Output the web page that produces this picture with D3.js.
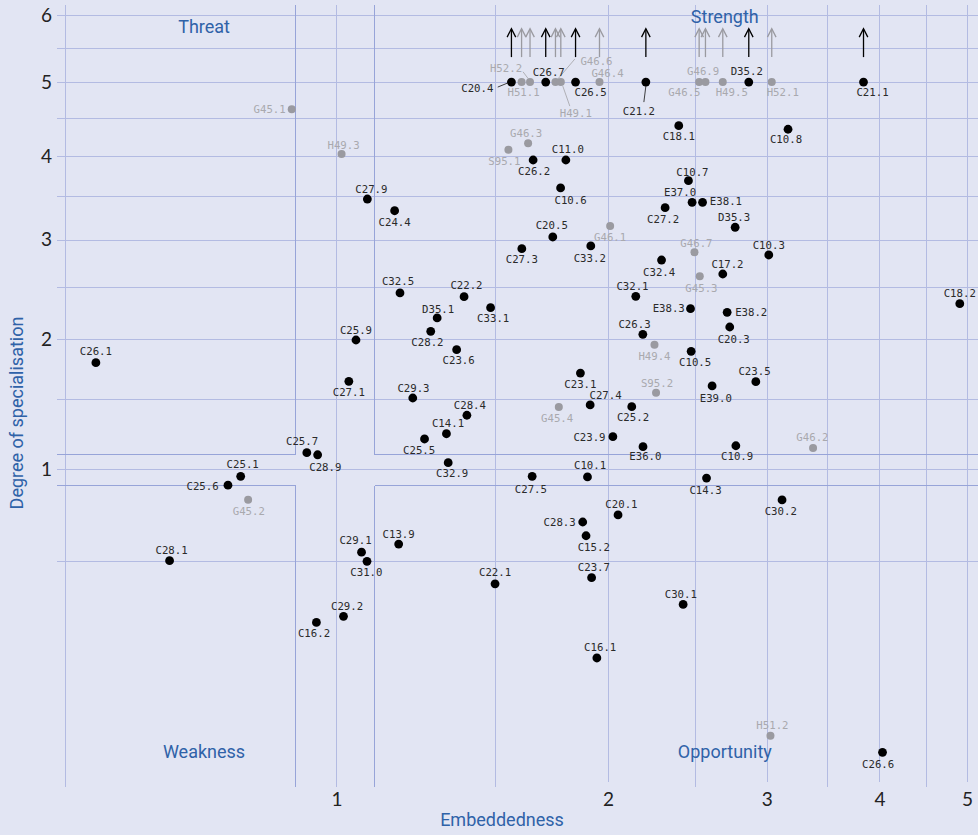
<!DOCTYPE html>
<html>
<head>
<meta charset="utf-8">
<script src="https://cdn.jsdelivr.net/npm/d3@7/dist/d3.min.js"></script>
<style>
  html, body { margin: 0; padding: 0; background: #e2e5f3; }
  svg { display: block; }
</style>
</head>
<body>
<svg id="chart" width="978" height="835"></svg>
<script>
// Sectors: code, embeddedness (x) and degree of specialisation (y)
const names = [
  "C20.4","H51.1","H52.2","C26.7","G46.6","H49.1","C26.5","G46.4","C21.2",
  "G46.9","G46.5","H49.5","D35.2","H52.1","C21.1",
  "C26.1","G45.1","H49.3","C27.9","C24.4","G46.3","S95.1","C26.2","C11.0",
  "C10.6","C18.1","C10.8","C10.7","E37.0","E38.1","C27.2","D35.3","C20.5",
  "G46.1","C27.3","C33.2","G46.7","C10.3","C32.4","C17.2","G45.3","C32.1",
  "E38.3","E38.2","C20.3","C22.2","C33.1","C32.5","D35.1","C28.2","C23.6",
  "C25.9","C27.1","C29.3","C28.4","C14.1","C25.5","C25.7","C28.9","C32.9",
  "C25.1","C25.6","G45.2","C28.1","C29.1","C31.0","C13.9","C29.2","C16.2",
  "C18.2","C26.3","H49.4","C10.5","C23.1","S95.2","C23.5","E39.0","C27.4",
  "G45.4","C25.2","C23.9","E36.0","C10.9","G46.2","C27.5","C10.1","C14.3",
  "C30.2","C20.1","C28.3","C15.2","C22.1","C23.7","C30.1","C16.1","H51.2","C26.6"
];
const embeddedness = [
  1.563,1.604,1.639,1.706,1.749,1.773,1.841,1.957,2.203,
  2.524,2.565,2.681,2.865,3.038,3.840,
  0.541,0.892,1.013,1.082,1.160,1.631,1.551,1.652,1.796,
  1.772,2.396,3.167,2.456,2.479,2.546,2.314,2.767,1.737,
  2.011,1.605,1.914,2.494,3.015,2.293,2.681,2.528,2.147,
  2.469,2.711,2.729,1.385,1.482,1.176,1.293,1.272,1.359,
  1.051,1.032,1.215,1.395,1.324,1.252,0.927,0.953,1.330,
  0.783,0.758,0.798,0.653,1.066,1.081,1.172,1.018,0.950,
  4.910,2.186,2.252,2.473,1.864,2.261,2.917,2.609,1.911,
  1.764,2.125,2.025,2.187,2.772,3.376,1.648,1.898,2.572,
  3.119,2.052,1.875,1.891,1.499,1.918,2.423,1.944,3.028,4.031
];
const specialisation = [
  5,5,5,5,5,5,5,5,5,
  5,5,5,5,5,5,
  1.795,4.619,4.026,3.469,3.331,4.164,4.081,3.949,3.949,
  3.602,4.397,4.349,3.691,3.430,3.430,3.367,3.141,3.032,
  3.156,2.903,2.933,2.864,2.835,2.781,2.634,2.610,2.408,
  2.287,2.252,2.113,2.404,2.296,2.441,2.198,2.073,1.908,
  1.994,1.639,1.505,1.373,1.238,1.201,1.107,1.093,1.041,
  0.954,0.899,0.813,0.500,0.539,0.497,0.578,0.280,0.260,
  2.335,2.046,1.952,1.893,1.707,1.547,1.636,1.601,1.451,
  1.435,1.438,1.217,1.148,1.154,1.139,0.954,0.950,0.943,
  0.812,0.728,0.690,0.619,0.401,0.426,0.322,0.157,0.0219,0.0090
];
// Sectors whose specialisation runs past the top of the scale (drawn at 5 with an arrow)
const offScale = [
  "C20.4","H51.1","H52.2","C26.7","G46.6","H49.1","C26.5","G46.4","C21.2",
  "G46.9","G46.5","H49.5","D35.2","H52.1","C21.1"
];
const xTicks = [1, 2, 3, 4, 5];
const yTicks = [1, 2, 3, 4, 5, 6];
const xGrid = [0.5, 1, 1.5, 2, 2.5, 3, 3.5, 4, 4.5, 5];
const yGrid = [0.5, 1, 1.5, 2, 2.5, 3, 3.5, 4, 4.5, 5, 5.5, 6];
const bandLow = 0.9, bandHigh = 1.1;
const capValue = 5;

// Label placement around each dot: [anchor, dx, dy]; optional leader [x1,y1,x2,y2]
const labelAt = {
  "C20.4":["e",-18,6,[-13.7,5,-4,1]], "H51.1":["m",2,10], "H52.2":["m",-24,-14,[-7,-10.3,-2,-3.7]],
  "C26.7":["m",3,-10], "G46.6":["m",41,-21,[19.3,-23,2.3,-3]], "H49.1":["m",15,31,[9,24,2,4]],
  "C26.5":["m",15,10], "G46.4":["m",8,-9], "C21.2":["m",-7,29,[-2,20,0,4]],
  "G46.9":["m",4,-11], "G46.5":["m",-21,10], "H49.5":["m",9,10], "D35.2":["m",-2,-11],
  "H52.1":["m",11,10], "C21.1":["m",9,10],
  "C26.1":["m",0,-11.7], "G45.1":["e",-6,0], "H49.3":["m",2,-9], "C27.9":["m",4,-10.3],
  "C24.4":["m",0,11], "G46.3":["m",-2,-10.6], "S95.1":["m",-4,11], "C26.2":["m",1,11],
  "C11.0":["m",2,-11], "C10.6":["m",10,12], "C18.1":["m",0,10], "C10.8":["m",-2,10],
  "C10.7":["m",4,-9], "E37.0":["m",-12,-10], "E38.1":["s",7.3,-1], "C27.2":["m",-2,11],
  "D35.3":["m",-1,-10.3], "C20.5":["m",-1,-12], "G46.1":["m",0,11.7], "C27.3":["m",0,10.6],
  "C33.2":["m",-1,12.3], "G46.7":["m",2,-9.6], "C10.3":["m",0,-10], "C32.4":["m",-2.4,11.7],
  "C17.2":["m",4.7,-10.3], "G45.3":["m",1.7,11.4], "C32.1":["m",-3.3,-10.6], "E38.3":["e",-5.7,-0.7],
  "E38.2":["s",8,0], "C20.3":["m",4,11.7], "C22.2":["m",2.4,-11.4], "C33.1":["m",2.6,10.6],
  "C32.5":["m",-2,-12], "D35.1":["m",1,-9], "C28.2":["m",-3.3,10.4], "C23.6":["m",2,10.3],
  "C25.9":["m",0,-10], "C27.1":["m",0,10.7], "C29.3":["m",0.7,-10], "C28.4":["m",3,-10.3],
  "C14.1":["m",1.6,-10.7], "C25.5":["m",-5.4,11], "C25.7":["m",-4.7,-11.7], "C28.9":["m",7.7,12],
  "C32.9":["m",4,10.6], "C25.1":["m",2,-12.3], "C25.6":["e",-9.3,1.4], "G45.2":["m",0.7,11],
  "C28.1":["m",2,-11], "C29.1":["m",-6,-12.3], "C31.0":["m",-0.6,10.7], "C13.9":["m",0,-9.7],
  "C29.2":["m",3.6,-10.6], "C16.2":["m",-2.4,11], "C18.2":["m",0,-10.4], "C26.3":["m",-8.3,-10],
  "H49.4":["m",0,11.3], "C10.5":["m",4,10.4], "C23.1":["m",0,11], "S95.2":["m",1,-9.7],
  "C23.5":["m",-1.3,-11], "E39.0":["m",3.7,11.7], "C27.4":["m",15.4,-10], "G45.4":["m",-1.7,10.7],
  "C25.2":["m",1.3,10.6], "C23.9":["e",-7.3,0], "E36.0":["m",2.4,10], "C10.9":["m",1.3,10],
  "G46.2":["m",-0.6,-11.3], "C27.5":["m",-1.3,12.4], "C10.1":["m",2.6,-11.3], "C14.3":["m",-1,12],
  "C30.2":["m",-1.3,10.7], "C20.1":["m",3.4,-10.7], "C28.3":["e",-7,0], "C15.2":["m",7.7,11],
  "C22.1":["m",0,-12], "C23.7":["m",2.3,-10.4], "C30.1":["m",-2.3,-10.6], "C16.1":["m",3.3,-11.3],
  "H51.2":["m",2,-11], "C26.6":["m",-4.4,11.7]
};

const svg = d3.select("#chart");
const W = 978, H = 835;
const plotTop = 5, plotBottom = 787;

const x = d3.scaleLog().domain([0.5, 5]).range([65, 966.9]);
const y = d3.scaleSqrt().domain([0, 6]).range([782, 15.3]);

const gridColor = "#b3bbe2";
const bandColor = "#97a4d8";
const blue = "#2f62a8";

svg.append("rect").attr("width", W).attr("height", H).attr("fill", "#e2e5f3");

// grid
const grid = svg.append("g").attr("shape-rendering", "crispEdges");
grid.selectAll("line.v").data(xGrid).join("line")
  .attr("x1", d => Math.round(x(d)) + 0.5).attr("x2", d => Math.round(x(d)) + 0.5)
  .attr("y1", plotTop).attr("y2", d => Number.isInteger(d) && d > 1 ? y(0) : plotBottom)
  .attr("stroke", gridColor).attr("stroke-width", 1);
grid.selectAll("line.h").data(yGrid).join("line")
  .attr("x1", 57).attr("x2", W)
  .attr("y1", d => Math.round(y(d)) + 0.5).attr("y2", d => Math.round(y(d)) + 0.5)
  .attr("stroke", gridColor).attr("stroke-width", 1);

// cross-shaped band around 1 on both axes
const bx0 = Math.round(x(bandLow)) + 0.5, bx1 = Math.round(x(bandHigh)) + 0.5;
const by0 = Math.round(y(bandHigh)) + 0.5, by1 = Math.round(y(bandLow)) + 0.5;
const bandSegs = [
  [bx0, plotTop, bx0, by0], [bx0, by1, bx0, plotBottom],
  [bx1, plotTop, bx1, by0], [bx1, by1, bx1, plotBottom],
  [57, by0, bx0, by0], [bx1, by0, W, by0],
  [57, by1, bx0, by1], [bx1, by1, W, by1]
];
grid.selectAll("line.b").data(bandSegs).join("line")
  .attr("x1", d => d[0]).attr("y1", d => d[1]).attr("x2", d => d[2]).attr("y2", d => d[3])
  .attr("stroke", bandColor).attr("stroke-width", 1.1);

// axes (tick labels only)
const yAxis = svg.append("g").attr("transform", "translate(57,0)")
  .call(d3.axisLeft(y).tickValues(yTicks).tickSize(0).tickPadding(5).tickFormat(d3.format("d")));
const xAxis = svg.append("g").attr("transform", `translate(0,${plotBottom})`)
  .call(d3.axisBottom(x).tickValues(xTicks).tickSize(0).tickPadding(5.5).tickFormat(d3.format("d")));
[yAxis, xAxis].forEach(a => {
  a.select(".domain").remove();
  a.selectAll("text").attr("font-family", "Lato, sans-serif").attr("font-size", 19).attr("fill", "#222");
});

// axis titles
svg.append("text").attr("x", 502).attr("y", 826).attr("text-anchor", "middle")
  .attr("font-family", "Roboto, sans-serif").attr("font-size", 18).attr("fill", blue).text("Embeddedness");
svg.append("text").attr("transform", "translate(23,413) rotate(-90)").attr("text-anchor", "middle")
  .attr("font-family", "Roboto, sans-serif").attr("font-size", 18).attr("fill", blue).text("Degree of specialisation");

// quadrant names
const quadrants = [
  { name: "Threat", xv: Math.sqrt(0.5 * 1.017), yPix: 33 },
  { name: "Strength", xv: 2.695, yPix: 23 },
  { name: "Weakness", xv: Math.sqrt(0.5 * 1.017), yPix: 758 },
  { name: "Opportunity", xv: 2.695, yPix: 758 }
];
svg.selectAll("text.quad").data(quadrants).join("text")
  .attr("x", d => x(d.xv)).attr("y", d => d.yPix).attr("text-anchor", "middle")
  .attr("font-family", "Roboto, sans-serif").attr("font-size", 18).attr("fill", blue)
  .text(d => d.name);

// points
const points = names.map((n, i) => ({
  name: n, xv: embeddedness[i], yv: specialisation[i],
  grey: /^[GHS]/.test(n), over: offScale.includes(n)
}));
const dotColor = d => d.grey ? "#9a9aa0" : "#000";
const textColor = d => d.grey ? "#a9a9ae" : "#2a2a2a";

// leader lines
svg.append("g").selectAll("line").data(points.filter(d => labelAt[d.name] && labelAt[d.name][3])).join("line")
  .attr("x1", d => x(d.xv) + labelAt[d.name][3][0]).attr("y1", d => y(Math.min(d.yv, capValue)) + labelAt[d.name][3][1])
  .attr("x2", d => x(d.xv) + labelAt[d.name][3][2]).attr("y2", d => y(Math.min(d.yv, capValue)) + labelAt[d.name][3][3])
  .attr("stroke", textColor).attr("stroke-width", 0.9);

// arrows for off-scale values
const arrows = svg.append("g").selectAll("g").data(points.filter(d => d.over)).join("g")
  .attr("transform", d => `translate(${x(d.xv)},${y(capValue)})`);
arrows.append("line").attr("x1", 0).attr("x2", 0).attr("y1", -25).attr("y2", -53)
  .attr("stroke", dotColor).attr("stroke-width", 1.3);
arrows.append("path").attr("d", "M-4.3,-45 L0,-53.5 L4.3,-45")
  .attr("fill", "none").attr("stroke", dotColor).attr("stroke-width", 1.3);

// dots
svg.append("g").selectAll("circle").data(points.slice().sort((a, b) => b.grey - a.grey)).join("circle")
  .attr("cx", d => x(d.xv)).attr("cy", d => y(Math.min(d.yv, capValue)))
  .attr("r", d => d.grey ? 4 : 4.4).attr("fill", dotColor);

// labels
const anchorOf = { m: "middle", s: "start", e: "end" };
svg.append("g").selectAll("text").data(points).join("text")
  .attr("x", d => x(d.xv) + labelAt[d.name][1])
  .attr("y", d => y(Math.min(d.yv, capValue)) + labelAt[d.name][2])
  .attr("dy", "0.36em")
  .attr("text-anchor", d => anchorOf[labelAt[d.name][0]])
  .attr("font-family", "'DejaVu Sans Mono', monospace").attr("font-size", 10.7)
  .attr("fill", textColor).text(d => d.name);
</script>
</body>
</html>
